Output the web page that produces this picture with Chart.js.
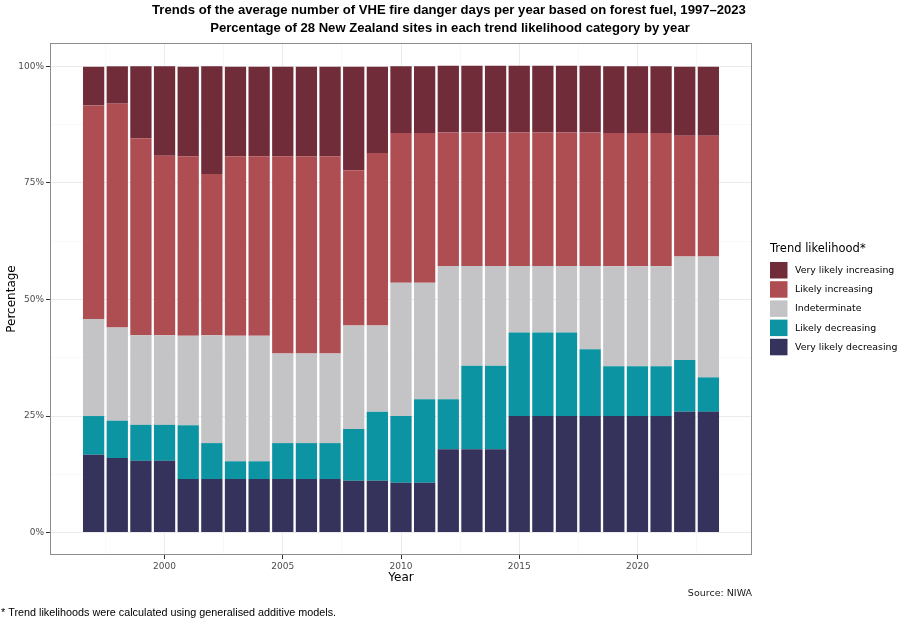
<!DOCTYPE html>
<html><head><meta charset="utf-8">
<script src="https://cdn.jsdelivr.net/npm/chart.js@4.4.0/dist/chart.umd.min.js"></script>
<style>html,body{margin:0;padding:0;background:#fff;} #wrap{width:900px;height:621px;position:relative;}</style>
</head><body><div id="wrap"><canvas id="c"></canvas></div>
<script>
const years = [1997,1998,1999,2000,2001,2002,2003,2004,2005,2006,2007,2008,2009,2010,2011,2012,2013,2014,2015,2016,2017,2018,2019,2020,2021,2022,2023];
const veryLikelyDecreasing = [16.7,16.0,15.4,15.4,11.5,11.5,11.5,11.5,11.5,11.5,11.5,11.1,11.1,10.7,10.7,17.9,17.9,17.9,25.0,25.0,25.0,25.0,25.0,25.0,25.0,25.9,25.9];
const likelyDecreasing = [8.3,8.0,7.7,7.7,11.5,7.7,3.8,3.8,7.7,7.7,7.7,11.1,14.8,14.3,17.9,10.7,17.9,17.9,17.9,17.9,17.9,14.3,10.7,10.7,10.7,11.1,7.4];
const indeterminate = [20.8,20.0,19.2,19.2,19.2,23.1,26.9,26.9,19.2,19.2,19.2,22.2,18.5,28.6,25.0,28.6,21.4,21.4,14.3,14.3,14.3,17.9,21.4,21.4,21.4,22.2,25.9];
const likelyIncreasing = [45.8,48.0,42.3,38.5,38.5,34.6,38.5,38.5,42.3,42.3,42.3,33.3,37.0,32.1,32.1,28.6,28.6,28.6,28.6,28.6,28.6,28.6,28.6,28.6,28.6,25.9,25.9];
const veryLikelyIncreasing = [8.3,8.0,15.4,19.2,19.2,23.1,19.2,19.2,19.2,19.2,19.2,22.2,18.5,14.3,14.3,14.3,14.3,14.3,14.3,14.3,14.3,14.3,14.3,14.3,14.3,14.8,14.8];
const seriesLabels = ['Very likely decreasing','Likely decreasing','Indeterminate','Likely increasing','Very likely increasing'];
const seriesColors = ['#35335b','#0d94a2','#c4c4c6','#ae4e52','#702c38'];
const xMajorTicks = [2000,2005,2010,2015,2020];
const xMinorTicks = [1997.5,2002.5,2007.5,2012.5,2017.5,2022.5];
const yMajorTicks = [0,25,50,75,100];
const yMinorTicks = [12.5,37.5,62.5,87.5];
const titleLines = ['Trends of the average number of VHE fire danger days per year based on forest fuel, 1997\u20132023','Percentage of 28 New Zealand sites in each trend likelihood category by year'];
const legendTitle = 'Trend likelihood*';
const sourceText = 'Source: NIWA';
const footnoteText = '* Trend likelihoods were calculated using generalised additive models.';

const seriesValues = [veryLikelyDecreasing, likelyDecreasing, indeterminate, likelyIncreasing, veryLikelyIncreasing];
const datasets = seriesValues.map((vals, i) => ({
  label: seriesLabels[i],
  data: years.map((y, j) => ({x: y, y: vals[j]})),
  backgroundColor: seriesColors[i],
  borderWidth: 0,
  categoryPercentage: 0.9,
  barPercentage: 1.0
}));

const DV = "'DejaVu Sans', sans-serif";
const LS = "'Liberation Sans', Arial, sans-serif";

const extrasPlugin = {
  id: 'extras',
  afterDatasetsDraw(chart) {
    const {ctx, chartArea: a} = chart;
    ctx.save();
    ctx.strokeStyle = '#8c8c8c';
    ctx.lineWidth = 1;
    ctx.strokeRect(Math.round(a.left) + 0.5, Math.round(a.top) + 0.5, Math.round(a.right - a.left) - 1, Math.round(a.bottom - a.top) - 1);
    ctx.restore();
  },
  afterDraw(chart) {
    const {ctx, chartArea: a} = chart;
    ctx.save();
    // title
    ctx.fillStyle = '#000';
    ctx.font = 'bold 13.1px ' + LS;
    ctx.textAlign = 'center';
    ctx.textBaseline = 'middle';
    ctx.fillText(titleLines[0], 449, 10);
    ctx.fillText(titleLines[1], 450, 28);
    // legend
    const lx = a.right + 18;
    ctx.font = '11.5px ' + DV;
    ctx.textAlign = 'left';
    ctx.fillText(legendTitle, lx, 249);
    const ds = chart.data.datasets.slice().reverse();
    ds.forEach((d, i) => {
      const top = 262 + i * 19.2;
      ctx.fillStyle = d.backgroundColor;
      ctx.fillRect(lx, top, 17.5, 16.5);
      ctx.fillStyle = '#000';
      ctx.font = '9.4px ' + DV;
      ctx.fillText(d.label, lx + 25, top + 8.5);
    });
    // source
    ctx.font = '9.5px ' + DV;
    ctx.textAlign = 'right';
    ctx.fillStyle = '#1a1a1a';
    ctx.fillText(sourceText, a.right, 594);
    // footnote
    ctx.font = '10.8px ' + LS;
    ctx.textAlign = 'left';
    ctx.fillStyle = '#000';
    ctx.fillText(footnoteText, 1, 613);
    ctx.restore();
  }
};

const isMajor = (v, step) => Math.abs(v / step - Math.round(v / step)) < 1e-6;

new Chart(document.getElementById('c'), {
  type: 'bar',
  data: {datasets},
  plugins: [extrasPlugin],
  options: {
    responsive: true,
    maintainAspectRatio: false,
    animation: false,
    layout: {padding: {left: 0, right: 148, top: 43, bottom: 33}},
    plugins: {
      legend: {display: false},
      tooltip: {enabled: false},
      title: {display: false}
    },
    scales: {
      x: {
        type: 'linear',
        stacked: true,
        offset: false,
        min: 1995.155,
        max: 2024.845,
        afterBuildTicks: (s) => { s.ticks = xMinorTicks.concat(xMajorTicks).sort((p, q) => p - q).map(v => ({value: v})); },
        afterFit: (s) => { s.height = 33; },
        grid: {
          offset: false,
          drawTicks: true,
          tickLength: 4,
          color: (c) => isMajor(c.tick.value, 5) ? '#ebebeb' : '#f5f5f5',
          lineWidth: (c) => isMajor(c.tick.value, 5) ? 1 : 0.6,
          tickColor: (c) => isMajor(c.tick.value, 5) ? '#333333' : 'rgba(0,0,0,0)'
        },
        border: {display: false},
        ticks: {
          autoSkip: false,
          maxRotation: 0,
          padding: 2,
          color: '#4d4d4d',
          font: {family: DV, size: 9},
          callback: (v) => isMajor(v, 5) ? String(v) : ''
        },
        title: {display: true, text: 'Year', color: '#000', font: {family: DV, size: 12}, padding: {top: 0, bottom: 3}}
      },
      y: {
        stacked: true,
        min: -4.8,
        max: 105,
        afterBuildTicks: (s) => { s.ticks = yMajorTicks.concat(yMinorTicks).sort((p, q) => p - q).map(v => ({value: v})); },
        afterFit: (s) => { s.width = 50; },
        grid: {
          drawTicks: true,
          tickLength: 4,
          color: (c) => isMajor(c.tick.value, 25) ? '#ebebeb' : '#f5f5f5',
          lineWidth: (c) => isMajor(c.tick.value, 25) ? 1 : 0.6,
          tickColor: (c) => isMajor(c.tick.value, 25) ? '#333333' : 'rgba(0,0,0,0)'
        },
        border: {display: false},
        ticks: {
          autoSkip: false,
          padding: 2,
          color: '#4d4d4d',
          font: {family: DV, size: 9},
          callback: (v) => isMajor(v, 25) ? v + '%' : ''
        },
        title: {display: true, text: 'Percentage', color: '#000', font: {family: DV, size: 12}, padding: {top: 5, bottom: 0}}
      }
    }
  }
});
</script></body></html>
